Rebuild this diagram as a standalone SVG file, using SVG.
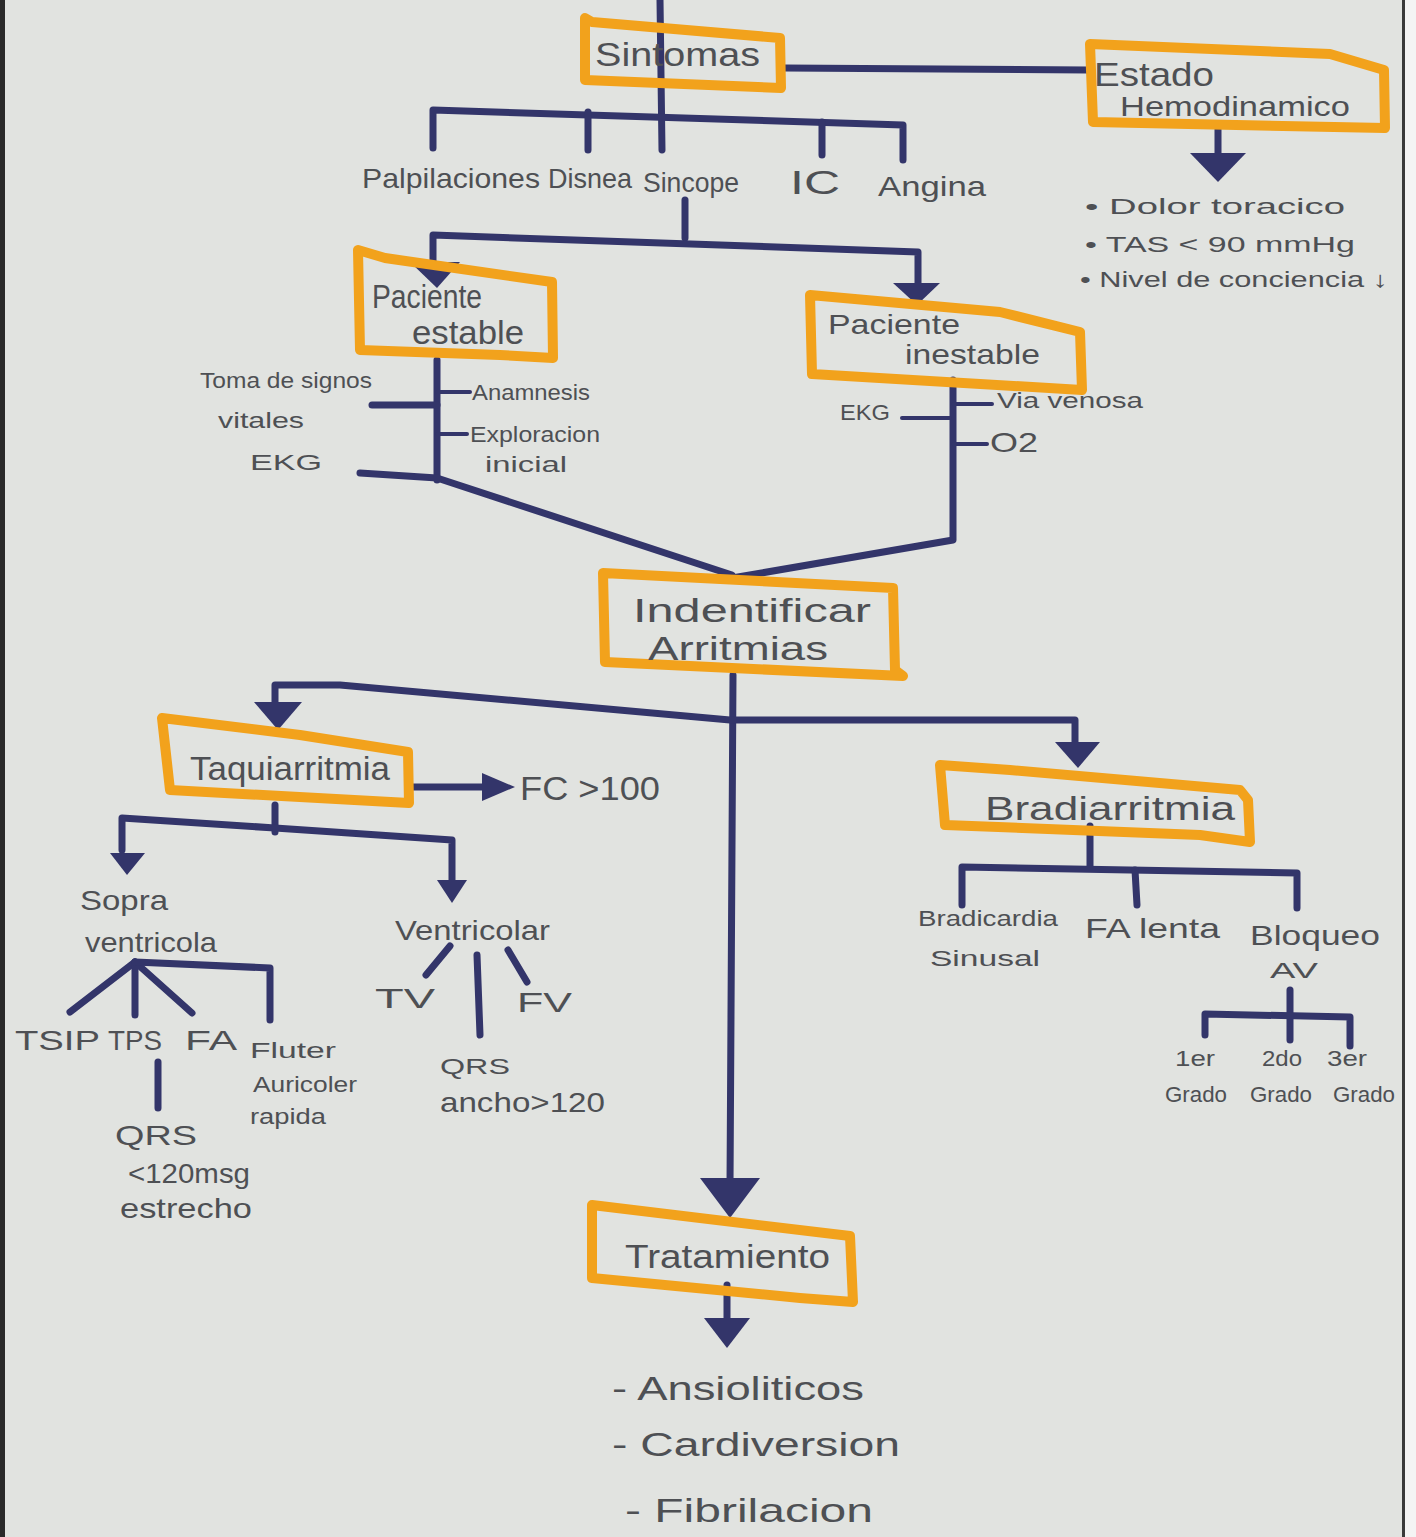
<svg xmlns="http://www.w3.org/2000/svg" width="1416" height="1537" viewBox="0 0 1416 1537">
<defs>
<style>
.box{fill:none;stroke:#f2a21c;stroke-width:10;stroke-linejoin:round}
.ln{fill:none;stroke:#33356a;stroke-width:7;stroke-linecap:round;stroke-linejoin:round}
.ln2{fill:none;stroke:#33356a;stroke-width:4;stroke-linecap:round}
.ah{fill:#33356a}
.t{font-family:"Liberation Sans","DejaVu Sans",sans-serif;fill:#4e5054}
.l{font-size:34px}
.m{font-size:28px}
.s{font-size:22px}
</style>
</defs>
<rect x="0" y="0" width="1416" height="1537" fill="#e1e3e0"/>
<rect x="0" y="0" width="5" height="1537" fill="#2a2a2a"/>
<rect x="1402" y="0" width="3" height="1537" fill="#3a3a3a"/>
<rect x="1405" y="0" width="11" height="1537" fill="#f4f4f4"/>

<g id="connectors">
<path class="ln" d="M660 0 L662 150"/>
<path class="ln" d="M785 68 L1088 70"/>
<path class="ln" d="M433 148 L433 110 L903 125 L903 160"/>
<path class="ln" d="M588 112 L588 150"/>
<path class="ln" d="M822 122 L822 155"/>
<path class="ln" d="M1218 128 L1218 160"/>
<polygon class="ah" points="1190,153 1246,153 1218,182"/>
<path class="ln" d="M685 200 L685 238"/>
<path class="ln" d="M433 270 L433 235 L918 252 L918 285"/>
<polygon class="ah" points="410,262 460,262 437,288"/>
<polygon class="ah" points="893,283 940,283 917,305"/>
<path class="ln" d="M437 360 L437 480"/>
<path class="ln2" d="M437 392 L470 392"/>
<path class="ln2" d="M437 434 L467 434"/>
<path class="ln" d="M372 405 L437 405"/>
<path class="ln" d="M360 473 L437 478 L732 575"/>
<path class="ln" d="M953 380 L953 540 L732 578"/>
<path class="ln2" d="M953 404 L992 404"/>
<path class="ln2" d="M902 418 L950 418"/>
<path class="ln2" d="M953 444 L987 444"/>
<path class="ln" d="M733 675 L730 1185"/>
<polygon class="ah" points="700,1178 760,1178 730,1218"/>
<path class="ln" d="M275 705 L275 685 L340 685 L730 720 L1075 720 L1075 745"/>
<polygon class="ah" points="254,702 302,702 278,730"/>
<polygon class="ah" points="1055,742 1100,742 1078,768"/>
<path class="ln" d="M410 787 L485 787"/>
<polygon class="ah" points="482,773 515,787 482,801"/>
<path class="ln" d="M275 805 L275 832"/>
<path class="ln" d="M122 850 L122 818 L275 828 L452 840 L452 880"/>
<polygon class="ah" points="110,853 145,853 127,875"/>
<polygon class="ah" points="437,880 467,880 452,903"/>
<path class="ln" d="M135 962 L70 1012"/>
<path class="ln" d="M135 962 L135 1015"/>
<path class="ln" d="M135 962 L192 1013"/>
<path class="ln" d="M135 962 L270 968 L270 1020"/>
<path class="ln" d="M158 1062 L158 1108"/>
<path class="ln" d="M450 946 L426 975"/>
<path class="ln" d="M477 955 L480 1035"/>
<path class="ln" d="M508 950 L527 982"/>
<path class="ln" d="M727 1285 L727 1322"/>
<polygon class="ah" points="704,1318 750,1318 727,1348"/>
<path class="ln" d="M1090 826 L1090 866"/>
<path class="ln" d="M962 905 L962 867 L1297 873 L1297 908"/>
<path class="ln" d="M1135 870 L1137 905"/>
<path class="ln" d="M1290 990 L1290 1040"/>
<path class="ln" d="M1205 1035 L1205 1014 L1350 1017 L1350 1046"/>
</g>

<g id="sintomas">
<path class="box" d="M585 18 L592 22 L780 38 L781 88 L585 80 Z"/>
<text class="t l" x="595" y="66" textLength="165" lengthAdjust="spacingAndGlyphs">Sintomas</text>
</g>
<g id="sintomas-items">
<text class="t m" x="362" y="188" textLength="178" lengthAdjust="spacingAndGlyphs">Palpilaciones</text>
<text class="t m" x="548" y="188" textLength="84" lengthAdjust="spacingAndGlyphs">Disnea</text>
<text class="t m" x="643" y="192" textLength="96" lengthAdjust="spacingAndGlyphs">Sincope</text>
<text class="t l" x="790" y="194" textLength="50" lengthAdjust="spacingAndGlyphs">IC</text>
<text class="t m" x="878" y="196" textLength="108" lengthAdjust="spacingAndGlyphs">Angina</text>
</g>
<g id="estado">
<path class="box" d="M1090 44 L1330 54 L1384 70 L1385 128 L1093 122 Z"/>
<text class="t l" x="1094" y="86" textLength="120" lengthAdjust="spacingAndGlyphs">Estado</text>
<text class="t m" x="1120" y="116" textLength="230" lengthAdjust="spacingAndGlyphs">Hemodinamico</text>
</g>
<g id="estado-items">
<text class="t s" x="1085" y="214" textLength="260" lengthAdjust="spacingAndGlyphs">• Dolor toracico</text>
<text class="t s" x="1085" y="252" textLength="270" lengthAdjust="spacingAndGlyphs">• TAS &lt; 90 mmHg</text>
<text class="t s" x="1080" y="287" textLength="308" lengthAdjust="spacingAndGlyphs">• Nivel de conciencia ↓</text>
</g>
<g id="paciente-estable">
<path class="box" d="M358 250 L385 258 L552 282 L553 358 L500 355 L360 350 Z"/>
<text class="t l" x="372" y="308" textLength="110" lengthAdjust="spacingAndGlyphs">Paciente</text>
<text class="t l" x="412" y="344" textLength="112" lengthAdjust="spacingAndGlyphs">estable</text>
<text class="t s" x="200" y="388" textLength="172" lengthAdjust="spacingAndGlyphs">Toma de signos</text>
<text class="t s" x="218" y="428" textLength="86" lengthAdjust="spacingAndGlyphs">vitales</text>
<text class="t s" x="250" y="470" textLength="72" lengthAdjust="spacingAndGlyphs">EKG</text>
<text class="t s" x="472" y="400" textLength="118" lengthAdjust="spacingAndGlyphs">Anamnesis</text>
<text class="t s" x="470" y="442" textLength="130" lengthAdjust="spacingAndGlyphs">Exploracion</text>
<text class="t s" x="485" y="472" textLength="82" lengthAdjust="spacingAndGlyphs">inicial</text>
</g>
<g id="paciente-inestable">
<path class="box" d="M810 295 L1000 312 L1080 332 L1082 390 L812 374 Z"/>
<text class="t m" x="828" y="334" textLength="132" lengthAdjust="spacingAndGlyphs">Paciente</text>
<text class="t m" x="905" y="364" textLength="135" lengthAdjust="spacingAndGlyphs">inestable</text>
<text class="t s" x="840" y="420" textLength="50" lengthAdjust="spacingAndGlyphs">EKG</text>
<text class="t s" x="997" y="408" textLength="146" lengthAdjust="spacingAndGlyphs">Via venosa</text>
<text class="t m" x="990" y="452" textLength="48" lengthAdjust="spacingAndGlyphs">O2</text>
</g>
<g id="identificar">
<path class="box" d="M603 573 L893 588 L895 670 L903 676 L605 662 Z"/>
<text class="t l" x="633" y="622" textLength="238" lengthAdjust="spacingAndGlyphs">Indentificar</text>
<text class="t l" x="648" y="660" textLength="180" lengthAdjust="spacingAndGlyphs">Arritmias</text>
</g>
<g id="taquiarritmia">
<path class="box" d="M162 718 L300 735 L408 752 L409 803 L170 790 Z"/>
<text class="t l" x="190" y="780" textLength="200" lengthAdjust="spacingAndGlyphs">Taquiarritmia</text>
</g>
<g id="fc">
<text class="t l" x="520" y="800" textLength="140" lengthAdjust="spacingAndGlyphs">FC &gt;100</text>
</g>
<g id="supra">
<text class="t m" x="80" y="910" textLength="88" lengthAdjust="spacingAndGlyphs">Sopra</text>
<text class="t m" x="85" y="952" textLength="132" lengthAdjust="spacingAndGlyphs">ventricola</text>
<text class="t m" x="15" y="1050" textLength="85" lengthAdjust="spacingAndGlyphs">TSIP</text>
<text class="t m" x="108" y="1050" textLength="54" lengthAdjust="spacingAndGlyphs">TPS</text>
<text class="t m" x="185" y="1050" textLength="52" lengthAdjust="spacingAndGlyphs">FA</text>
<text class="t s" x="250" y="1058" textLength="86" lengthAdjust="spacingAndGlyphs">Fluter</text>
<text class="t s" x="253" y="1092" textLength="104" lengthAdjust="spacingAndGlyphs">Auricoler</text>
<text class="t s" x="250" y="1124" textLength="76" lengthAdjust="spacingAndGlyphs">rapida</text>
<text class="t m" x="115" y="1145" textLength="82" lengthAdjust="spacingAndGlyphs">QRS</text>
<text class="t m" x="128" y="1183" textLength="122" lengthAdjust="spacingAndGlyphs">&lt;120msg</text>
<text class="t m" x="120" y="1218" textLength="132" lengthAdjust="spacingAndGlyphs">estrecho</text>
</g>
<g id="ventricular">
<text class="t m" x="395" y="940" textLength="155" lengthAdjust="spacingAndGlyphs">Ventricolar</text>
<text class="t m" x="375" y="1008" textLength="60" lengthAdjust="spacingAndGlyphs">TV</text>
<text class="t m" x="517" y="1012" textLength="55" lengthAdjust="spacingAndGlyphs">FV</text>
<text class="t s" x="440" y="1074" textLength="70" lengthAdjust="spacingAndGlyphs">QRS</text>
<text class="t m" x="440" y="1112" textLength="165" lengthAdjust="spacingAndGlyphs">ancho&gt;120</text>
</g>
<g id="bradiarritmia">
<path class="box" d="M940 765 L1010 770 L1240 790 L1248 800 L1250 842 L1200 835 L945 825 Z"/>
<text class="t l" x="985" y="820" textLength="250" lengthAdjust="spacingAndGlyphs">Bradiarritmia</text>
<text class="t s" x="918" y="926" textLength="140" lengthAdjust="spacingAndGlyphs">Bradicardia</text>
<text class="t s" x="930" y="966" textLength="110" lengthAdjust="spacingAndGlyphs">Sinusal</text>
<text class="t m" x="1085" y="938" textLength="135" lengthAdjust="spacingAndGlyphs">FA lenta</text>
<text class="t m" x="1250" y="945" textLength="130" lengthAdjust="spacingAndGlyphs">Bloqueo</text>
<text class="t s" x="1270" y="978" textLength="48" lengthAdjust="spacingAndGlyphs">AV</text>
<text class="t s" x="1175" y="1066" textLength="40" lengthAdjust="spacingAndGlyphs">1er</text>
<text class="t s" x="1165" y="1102" textLength="62" lengthAdjust="spacingAndGlyphs">Grado</text>
<text class="t s" x="1262" y="1066" textLength="40" lengthAdjust="spacingAndGlyphs">2do</text>
<text class="t s" x="1250" y="1102" textLength="62" lengthAdjust="spacingAndGlyphs">Grado</text>
<text class="t s" x="1327" y="1066" textLength="40" lengthAdjust="spacingAndGlyphs">3er</text>
<text class="t s" x="1333" y="1102" textLength="62" lengthAdjust="spacingAndGlyphs">Grado</text>
</g>
<g id="tratamiento">
<path class="box" d="M592 1205 L850 1236 L853 1302 L800 1298 L592 1278 Z"/>
<text class="t l" x="625" y="1268" textLength="205" lengthAdjust="spacingAndGlyphs">Tratamiento</text>
</g>
<g id="tratamiento-items">
<text class="t l" x="612" y="1400" textLength="252" lengthAdjust="spacingAndGlyphs">- Ansioliticos</text>
<text class="t l" x="612" y="1456" textLength="288" lengthAdjust="spacingAndGlyphs">- Cardiversion</text>
<text class="t l" x="625" y="1522" textLength="248" lengthAdjust="spacingAndGlyphs">- Fibrilacion</text>
</g>
</svg>
